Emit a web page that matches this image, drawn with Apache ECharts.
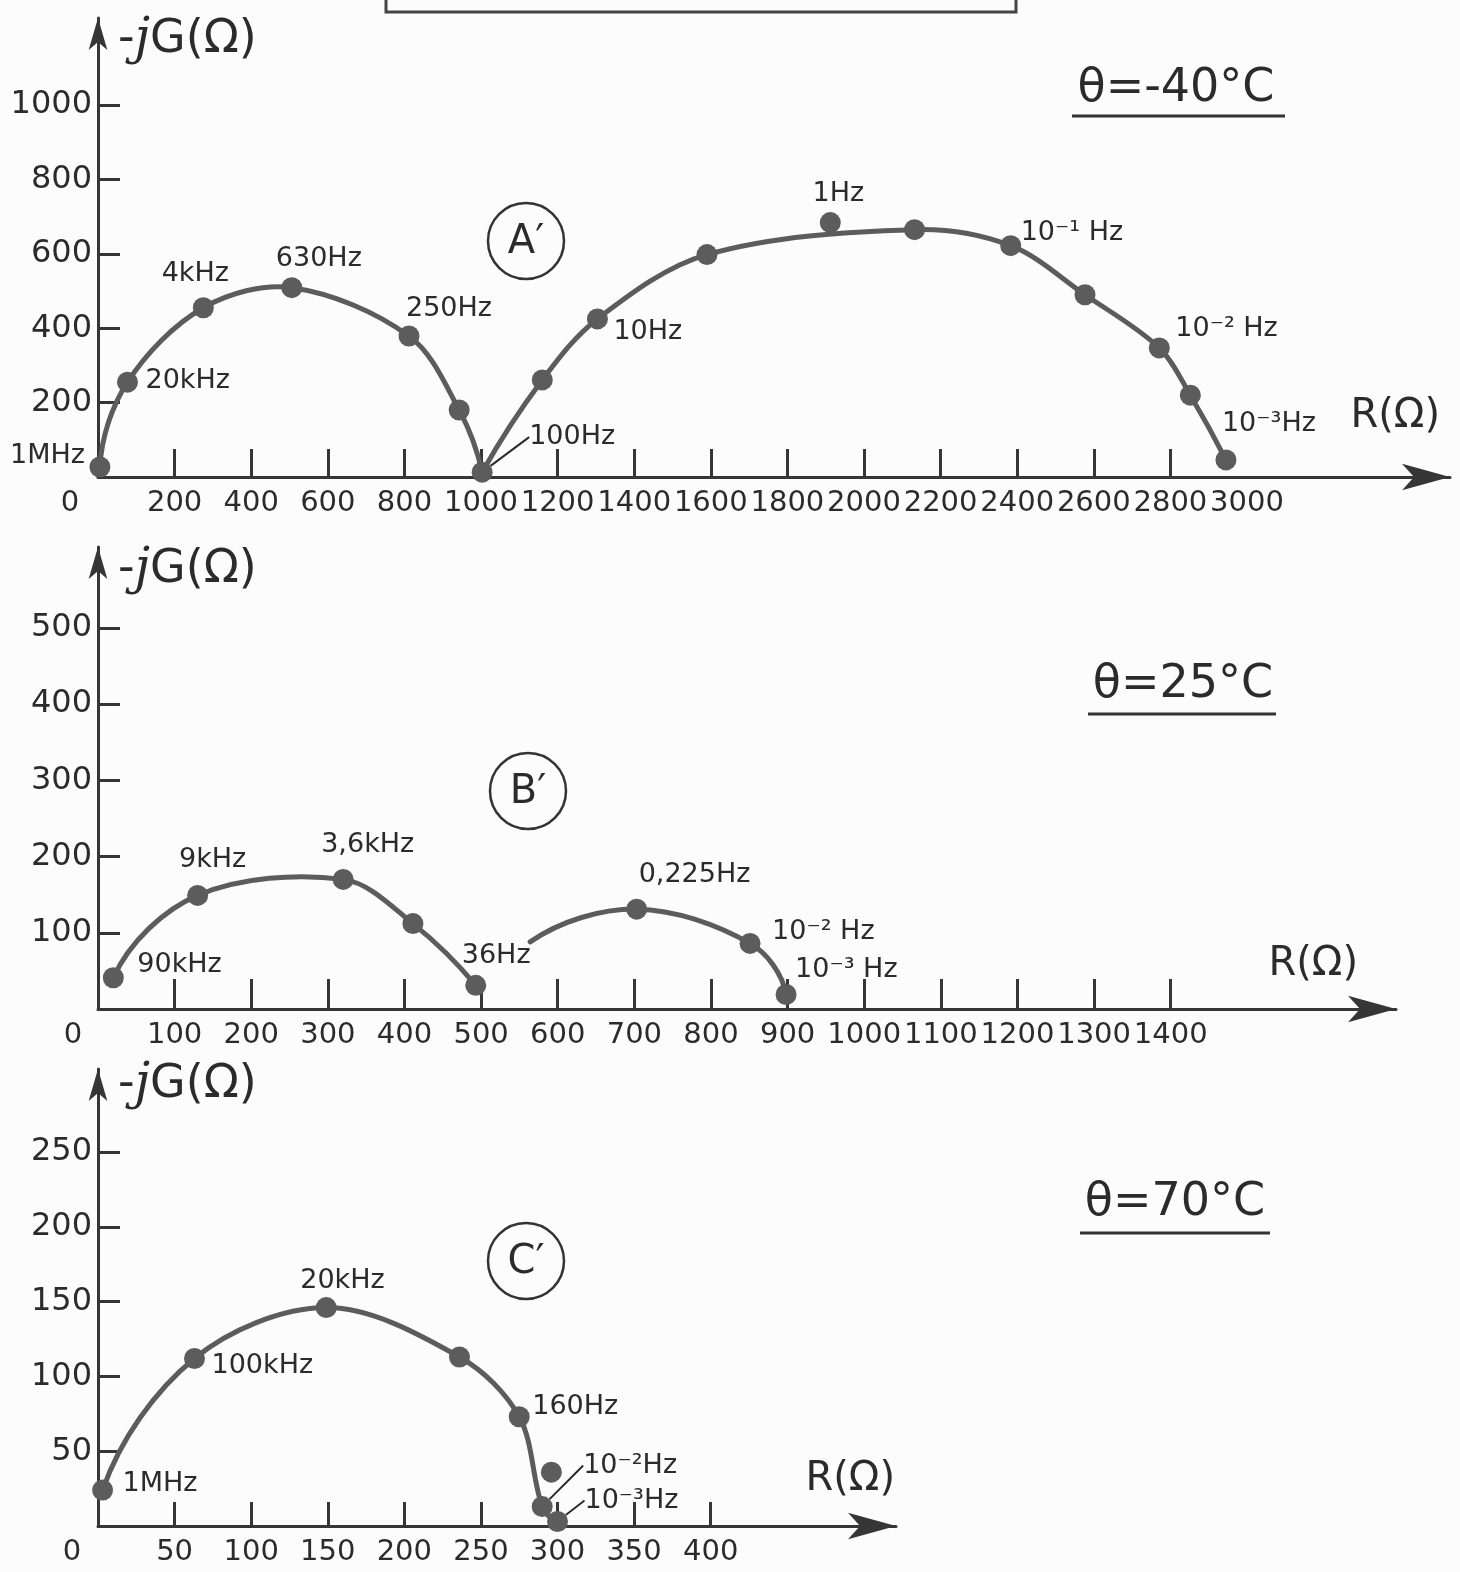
<!DOCTYPE html>
<html>
<head>
<meta charset="utf-8">
<script src="https://cdn.jsdelivr.net/npm/echarts@6/dist/echarts.min.js"></script>
<style>
html,body{margin:0;padding:0;background:#fcfcfc;}
#c{width:1460px;height:1572px;}
</style>
</head>
<body>
<div id="c"></div>
<script>
// ---------- DATA ----------
// Panel A' : theta = -40 °C
const A_R    = [5, 77, 275, 506, 812, 943, 1003, 1160, 1304, 1590, 1912, 2132, 2383, 2577, 2771, 2852, 2945];
const A_G    = [27, 255, 455, 509, 379, 180, 13, 261, 425, 598, 684, 665, 622, 490, 347, 220, 46];
const A_FREQ = ['1MHz','20kHz','4kHz','630Hz','250Hz','','100Hz','','10Hz','','1Hz','','10⁻¹ Hz','','10⁻² Hz','','10⁻³Hz'];
const A_DOT  = [1,1,1,1,1,1,1,1,1,1,1,1,1,1,1,1,1];
const A_ARCS = [[0,1,2,3,4,5,6],[6,7,8,9,11,12,13,14,15,16]];
const A_XTICKS = [0,200,400,600,800,1000,1200,1400,1600,1800,2000,2200,2400,2600,2800,3000];
const A_YTICKS = [200,400,600,800,1000];

// Panel B' : theta = 25 °C
const B_R    = [20, 130, 320, 411, 493, 564, 703, 851, 898];
const B_G    = [41, 149, 170, 112, 31, 88, 131, 86, 19];
const B_FREQ = ['90kHz','9kHz','3,6kHz','','36Hz','','0,225Hz','10⁻² Hz','10⁻³ Hz'];
const B_DOT  = [1,1,1,1,1,0,1,1,1];
const B_ARCS = [[0,1,2,3,4],[5,6,7,8]];
const B_XTICKS = [0,100,200,300,400,500,600,700,800,900,1000,1100,1200,1300,1400];
const B_YTICKS = [100,200,300,400,500];

// Panel C' : theta = 70 °C
const C_R    = [3, 63, 149, 236, 275, 296, 290, 300];
const C_G    = [24, 112, 146, 113, 73, 36, 13, 3];
const C_FREQ = ['1MHz','100kHz','20kHz','','160Hz','','10⁻²Hz','10⁻³Hz'];
const C_DOT  = [1,1,1,1,1,1,1,1];
const C_ARCS = [[0,1,2,3,4,6,7]];
const C_XTICKS = [0,50,100,150,200,250,300,350,400];
const C_YTICKS = [50,100,150,200,250];

// ---------- label placement (style only) : [dx, dy, align, leader] ----------
const A_LBL = {0:[-15,-11,'right'],1:[18,-1,'left'],2:[-8,-34,'center'],3:[-16,-29,'left'],4:[-3,-27,'left'],
  6:[47,-35,'left',1],8:[16,13,'left'],10:[8,-29,'center'],12:[10,-13,'left'],14:[16,-19,'left'],16:[-4,-36,'left']};
const B_LBL = {0:[24,-13,'left'],1:[15,-35,'center'],2:[-22,-34,'left'],4:[-14,-29,'left'],6:[2,-34,'left'],
  7:[22,-11,'left'],8:[9,-25,'left']};
const C_LBL = {0:[20,-6,'left'],1:[17,8,'left'],2:[-26,-27,'left'],4:[13,-10,'left'],6:[41,-41,'left',1],7:[27,-21,'left',1]};

const FONT = 'DejaVu Sans';
const INK = '#2b2b2b';
const AXIS = '#363636';
const CURVE = '#5c5c5c';

const chart = echarts.init(document.getElementById('c'), null, {renderer:'canvas'});

function xAxis(gi, max, labels, ticks, zeroPad, tickLen, nameGap, namePadB){
  return {
    type:'value', gridIndex:gi, min:0, max:max,
    splitLine:{show:false},
    axisLine:{show:true, onZero:false, symbol:['none','arrow'], symbolSize:[20,48], lineStyle:{color:AXIS,width:3}},
    axisTick:{show:true, inside:true, length:tickLen, customValues:ticks, lineStyle:{color:AXIS,width:3}},
    axisLabel:{customValues:labels, margin:12, color:INK, fontFamily:FONT, fontSize:29,
      formatter: v => v === 0 ? '{z|0}' : String(v),
      rich:{z:{color:INK, fontFamily:FONT, fontSize:29, padding:[0,zeroPad,0,0]}}},
    name:'R(Ω)', nameLocation:'end', nameGap:nameGap,
    nameTextStyle:{color:INK, fontFamily:FONT, fontSize:40, align:'right', verticalAlign:'bottom', padding:[0,0,namePadB,0]}
  };
}
function yAxis(gi, max, labels, nameGap){
  return {
    type:'value', gridIndex:gi, min:0, max:max,
    splitLine:{show:false},
    axisLine:{show:true, onZero:false, symbol:['none','arrow'], symbolSize:[14,32], lineStyle:{color:AXIS,width:3}},
    axisTick:{show:true, inside:true, length:22, customValues:labels, lineStyle:{color:AXIS,width:3}},
    axisLabel:{customValues:labels, margin:6, color:INK, fontFamily:FONT, fontSize:32, formatter: v => String(v)},
    name:'{a|-}{j|j}{a|G(Ω)}', nameLocation:'end', nameGap:nameGap,
    nameTextStyle:{align:'left', verticalAlign:'middle', padding:[0,0,0,20],
      rich:{a:{fontFamily:FONT, fontSize:46, color:INK},
            j:{fontFamily:'DejaVu Serif', fontStyle:'italic', fontSize:50, color:INK}}}
  };
}

// smooth curve through pixel points (tangent-continuous cubic segments)
function splineSegments(P){
  const n = P.length;
  const dist = (a,b) => Math.hypot(b[0]-a[0], b[1]-a[1]);
  const m = new Array(n);
  for (let i = 1; i < n-1; i++) {
    const s = dist(P[i-1],P[i]) + dist(P[i],P[i+1]);
    m[i] = [(P[i+1][0]-P[i-1][0])/s, (P[i+1][1]-P[i-1][1])/s];
  }
  function endTan(a, b, nb){ // reflect neighbour tangent about chord
    const L = dist(a,b); const u = [(b[0]-a[0])/L, (b[1]-a[1])/L];
    if (!nb) return u;
    const dp = u[0]*nb[0] + u[1]*nb[1];
    const r = [2*dp*u[0]-nb[0], 2*dp*u[1]-nb[1]];
    const rl = Math.hypot(r[0], r[1]) || 1;
    return [r[0]/rl, r[1]/rl];
  }
  m[0] = endTan(P[0], P[1], n > 2 ? m[1] : null);
  m[n-1] = endTan(P[n-2], P[n-1], n > 2 ? m[n-2] : null);
  const segs = [];
  for (let i = 0; i < n-1; i++) {
    const L = dist(P[i],P[i+1]) / 3;
    segs.push({type:'bezierCurve', silent:true, shape:{
      x1:P[i][0], y1:P[i][1], x2:P[i+1][0], y2:P[i+1][1],
      cpx1:P[i][0]+m[i][0]*L, cpy1:P[i][1]+m[i][1]*L,
      cpx2:P[i+1][0]-m[i+1][0]*L, cpy2:P[i+1][1]-m[i+1][1]*L},
      style:{stroke:CURVE, lineWidth:5, fill:null, lineCap:'round'}});
  }
  return segs;
}

function panelSeries(gi, R, G, F, DOT, LBL, ARCS){
  const out = [];
  ARCS.forEach(idx => {
    const arcData = idx.map(i => [R[i], G[i]]);
    out.push({type:'custom', coordinateSystem:'cartesian2d', xAxisIndex:gi, yAxisIndex:gi, silent:true, z:2,
      data: arcData, clip:false,
      renderItem: function(params, api){
        if (params.dataIndex !== 0) return null;
        const P = arcData.map(d => api.coord(d));
        return {type:'group', children: splineSegments(P)};
      }});
  });
  const data = R.map((r,i) => {
    const o = LBL[i];
    const item = {value:[r, G[i]], symbolSize: DOT[i] ? 21 : 0};
    if (o && F[i]) {
      item.label = {show:true, position:'inside', formatter:F[i], align:o[2], verticalAlign:'middle',
        color:INK, fontFamily:FONT, fontSize:27};
      if (o[3]) item.labelLine = {show:true, lineStyle:{color:INK, width:2}};
    } else {
      item.label = {show:false};
    }
    return item;
  });
  out.push({type:'scatter', xAxisIndex:gi, yAxisIndex:gi, z:3, silent:true, symbol:'circle',
    itemStyle:{color:CURVE, opacity:1}, data:data,
    labelLayout: function(p){
      const o = LBL[p.dataIndex];
      return o ? {dx:o[0], dy:o[1]} : {};
    }});
  return out;
}

let series = [];
series = series.concat(panelSeries(0, A_R, A_G, A_FREQ, A_DOT, A_LBL, A_ARCS));
series = series.concat(panelSeries(1, B_R, B_G, B_FREQ, B_DOT, B_LBL, B_ARCS));
series = series.concat(panelSeries(2, C_R, C_G, C_FREQ, C_DOT, C_LBL, C_ARCS));

function circ(cx, cy, letter){
  return [
    {type:'circle', shape:{cx:cx, cy:cy, r:38}, style:{stroke:'#333', lineWidth:2.5, fill:'none'}, z:10},
    {type:'text', x:cx, y:cy+2, style:{text:letter, fontFamily:FONT, fontSize:40, fill:INK, align:'center', verticalAlign:'middle'}, z:10}
  ];
}
function theta(cx, cy, txt, ux1, ux2, uy){
  return [
    {type:'text', x:cx, y:cy, style:{text:txt, fontFamily:FONT, fontSize:46, fill:INK, align:'center', verticalAlign:'middle'}, z:10},
    {type:'line', shape:{x1:ux1, y1:uy, x2:ux2, y2:uy}, style:{stroke:'#333', lineWidth:3}, z:10}
  ];
}

const option = {
  backgroundColor:'#fcfcfc',
  animation:false,
  grid:[
    {left:98, top:18, width:1352, height:459},
    {left:98, top:547, width:1298, height:462},
    {left:98, top:1069, width:798, height:457}
  ],
  xAxis:[
    xAxis(0, 3530, A_XTICKS, A_XTICKS.filter(v => v > 0 && v < 3000), 56, 28, -10, 40),
    xAxis(1, 1694, B_XTICKS, B_XTICKS.filter(v => v > 0), 50, 30, -38, 24),
    xAxis(2, 521, C_XTICKS, C_XTICKS.filter(v => v > 0), 52, 24, -1, 26)
  ],
  yAxis:[
    yAxis(0, 1234, A_YTICKS, -22),
    yAxis(1, 606, B_YTICKS, -23),
    yAxis(2, 305.5, C_YTICKS, -16)
  ],
  series: series,
  graphic: [
    {type:'polyline', shape:{points:[[386,-4],[386,12],[1016,12],[1016,-4]]}, style:{stroke:'#444', lineWidth:3, fill:'none'}, z:10}
  ].concat(circ(526,241,'A′'), circ(528,791,'B′'), circ(526,1261,'C′'),
    theta(1176,89,'θ=-40°C',1072,1285,116),
    theta(1183,685,'θ=25°C',1088,1276,714),
    theta(1175,1203,'θ=70°C',1080,1270,1233))
};
chart.setOption(option);
</script>
</body>
</html>
